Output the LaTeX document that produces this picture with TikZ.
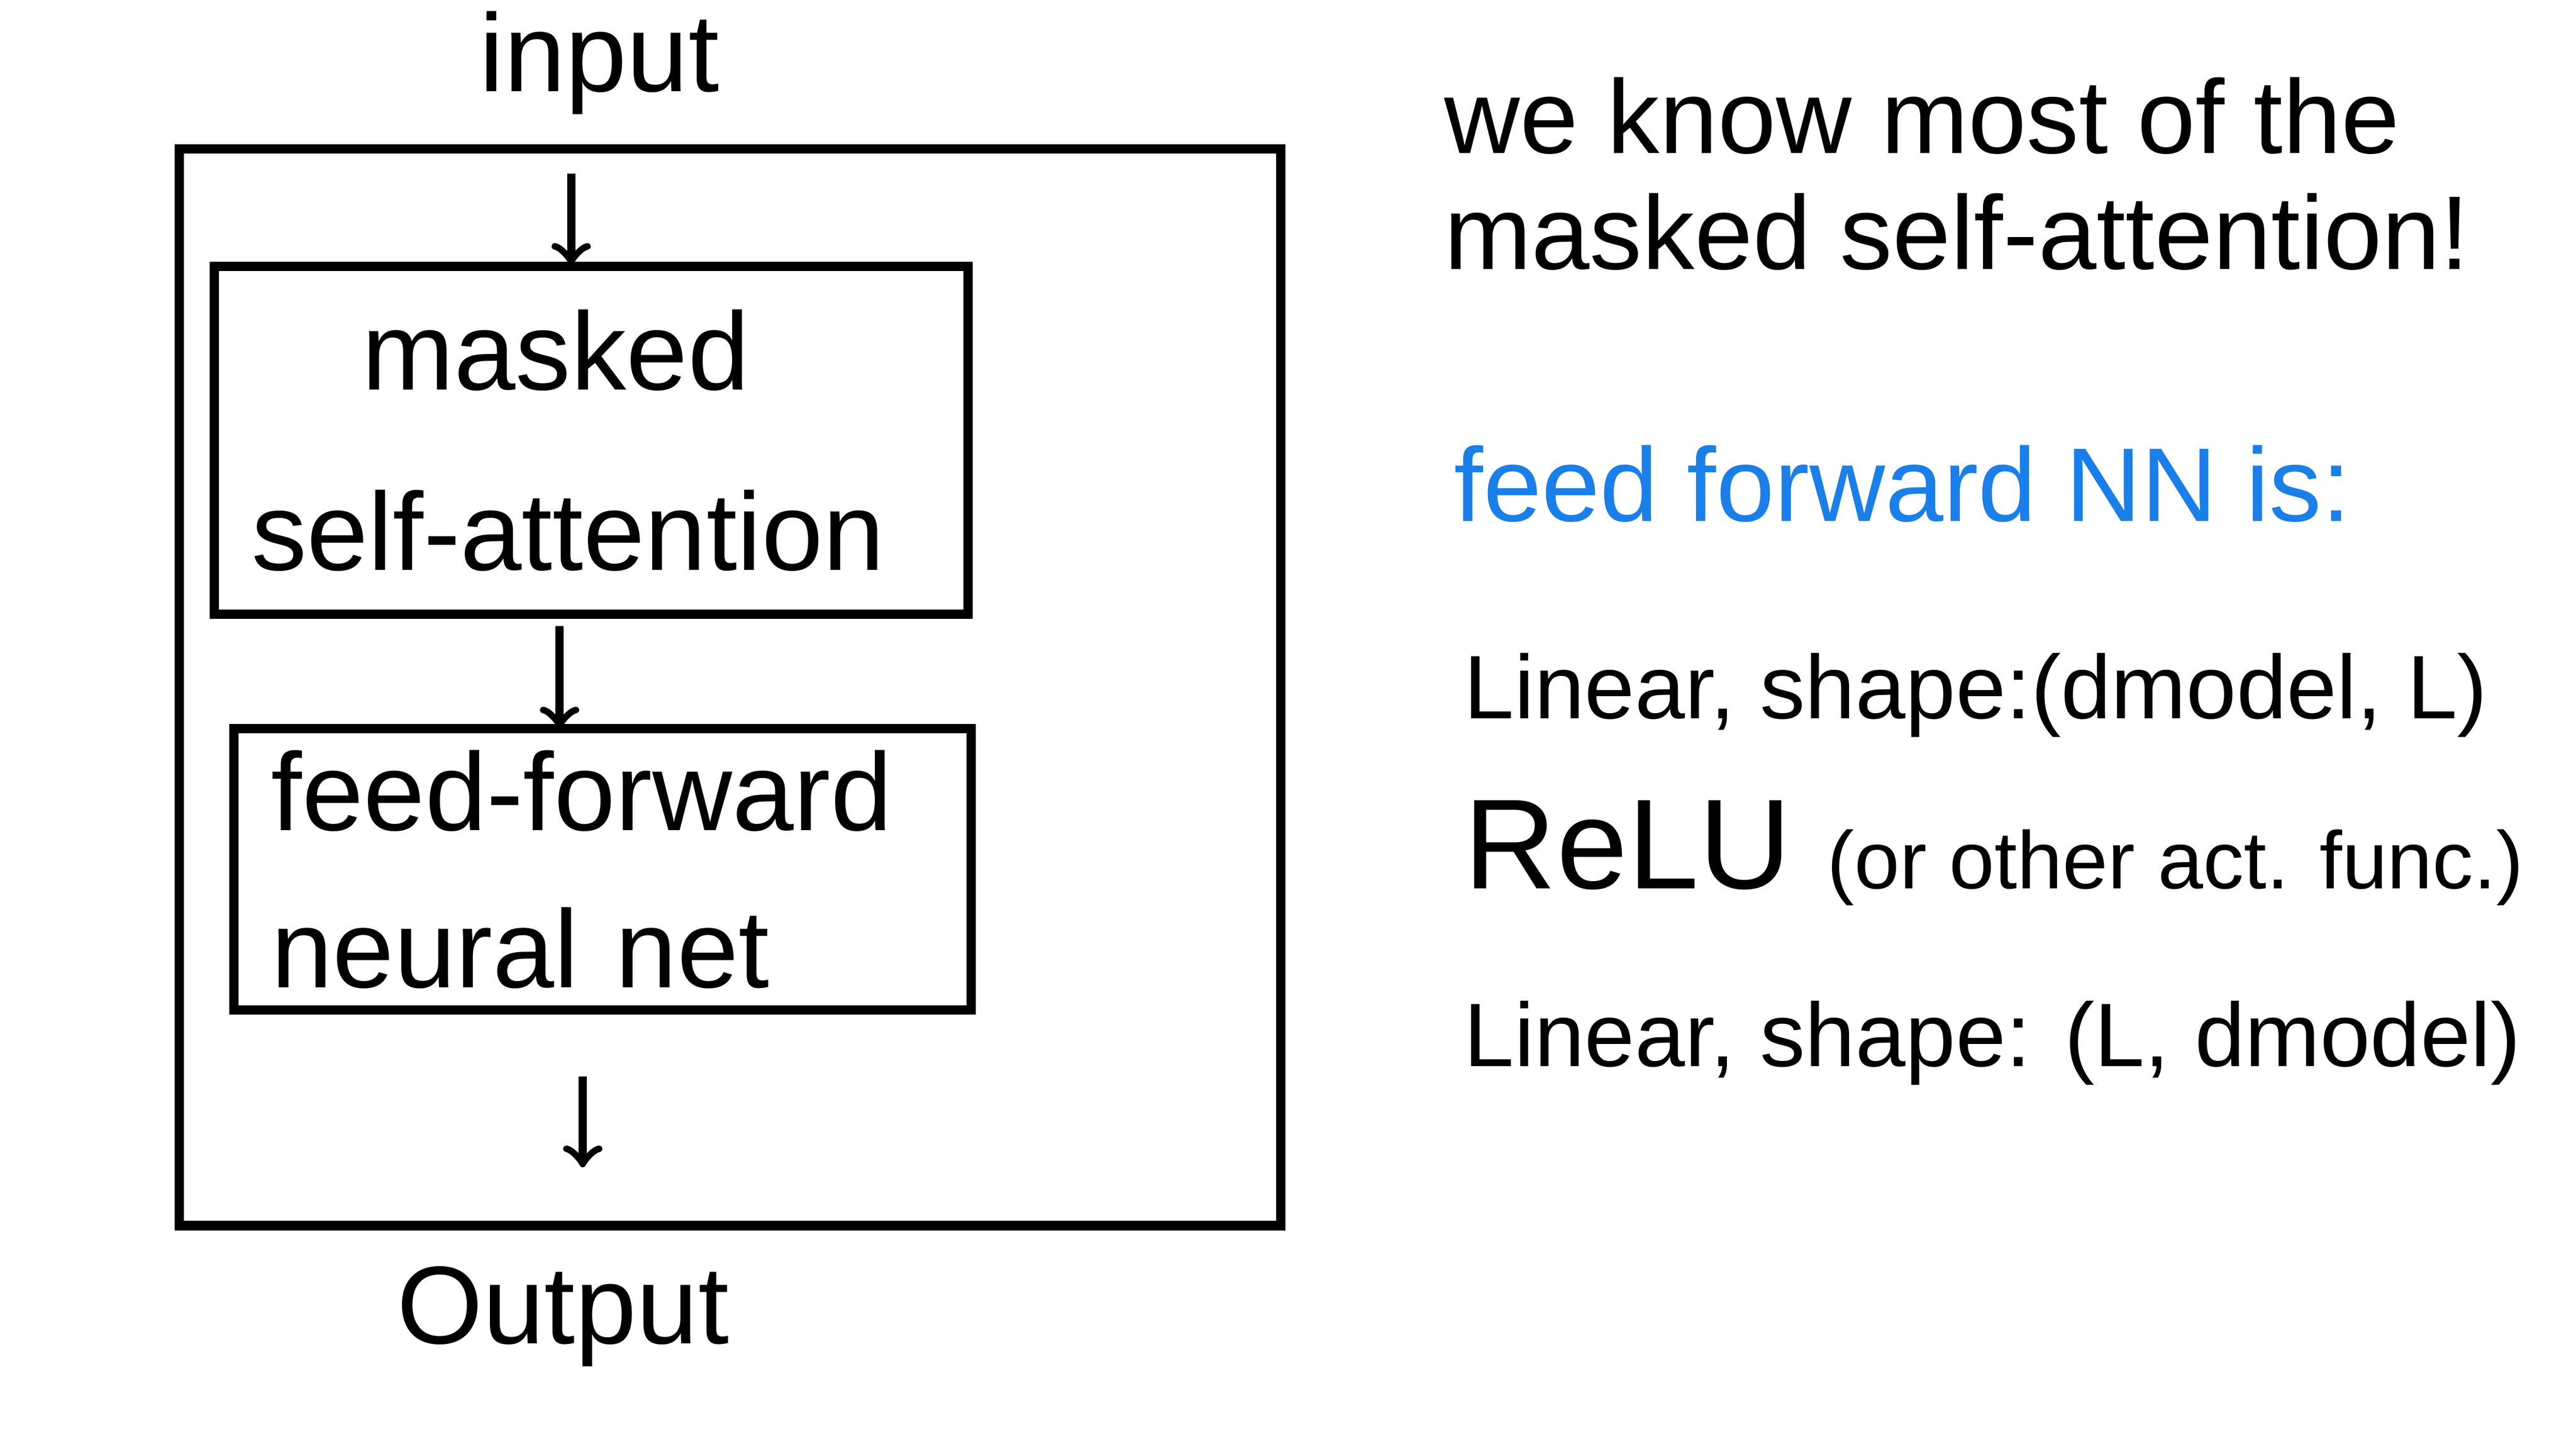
\documentclass[tikz,border=0pt]{standalone}
\usepackage{fontspec}
\setmainfont{Liberation Sans}
\definecolor{hblue}{HTML}{1A7FE8}
\begin{document}
\begin{tikzpicture}[x=0.01cm,y=-0.01cm,
  box/.style={draw,line width=1.6pt,rectangle},
  arr/.style={->,line width=1.4pt},
  lbl/.style={font=\fontsize{19}{23}\selectfont},
  rt/.style={anchor=west,font=\fontsize{18}{22}\selectfont},
  bt/.style={anchor=west,font=\fontsize{15}{19}\selectfont}]
\useasboundingbox (0,0) rectangle (1556,875);
\node[box,minimum width=6.65cm,minimum height=6.5cm] (outer) at (441,415) {};
\node[box,minimum width=4.55cm,minimum height=2.1cm,align=left,lbl,text width=4.1cm] (b1) at (357,266) {\quad masked\\[8pt]self-attention};
\node[box,minimum width=4.45cm,minimum height=1.7cm,align=left,lbl,text width=4.0cm] (b2) at (364,525) {feed-forward\\[4pt]neural net};
\node[lbl] (in) at (362,38) {input};
\node[lbl] (out) at (340,795) {Output};
\coordinate (a0) at (345,105);
\coordinate (a1) at (345,160);
\coordinate (c0) at (338,378);
\coordinate (c1) at (338,440);
\coordinate (a2) at (352,650);
\coordinate (a3) at (352,705);
\draw[arr] (a0) -- (a1);
\draw[arr] (c0) -- (c1);
\draw[arr] (a2) -- (a3);
\node[rt] (t1) at (860,70) {we know most of the};
\node[rt] (t2) at (860,140) {masked self-attention!};
\node[rt,text=hblue] (t3) at (866,292) {feed forward NN is:};
\node[bt] (t4) at (872,420) {\fontsize{15.5}{19}\selectfont Linear, shape:(dmodel, L)};
\node[bt] (t5) at (872,515) {\fontsize{22}{26}\selectfont ReLU \fontsize{14}{17}\selectfont(or other act. func.)};
\node[bt] (t6) at (872,630) {\fontsize{15.5}{19}\selectfont Linear, shape: (L, dmodel)};
\end{tikzpicture}
\end{document}
